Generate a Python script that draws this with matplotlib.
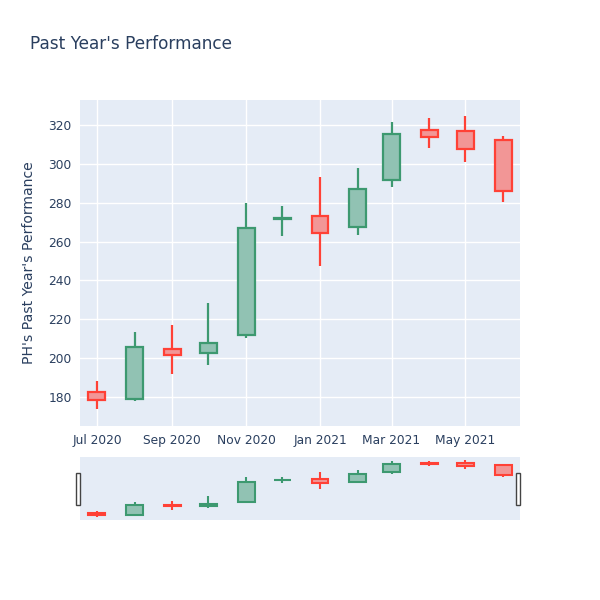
import matplotlib
matplotlib.use("Agg")
import matplotlib.pyplot as plt
import matplotlib.dates as mdates
import numpy as np
import pandas as pd
from matplotlib.patches import Rectangle

# monthly candles, values
dates = ["2020-07-01", "2020-08-01", "2020-09-01", "2020-10-01", "2020-11-01", "2020-12-01",
         "2021-01-01", "2021-02-01", "2021-03-01", "2021-04-01", "2021-05-01", "2021-06-01"]
opens = [182.7, 179.0, 204.9, 202.8, 211.9, 271.6, 273.3, 267.3, 291.7, 317.6, 316.9, 312.3]
highs = [188.4, 213.3, 217.0, 228.2, 280.0, 278.3, 293.4, 297.7, 321.4, 323.4, 324.6, 314.3]
lows = [173.7, 178.1, 191.8, 196.5, 210.5, 262.7, 247.4, 263.4, 287.9, 308.3, 301.0, 280.5]
closes = [178.5, 205.6, 201.5, 207.9, 267.0, 272.4, 264.2, 286.9, 315.4, 313.7, 307.8, 286.2]

title = "Past Year's Performance"
ylabel = "PH's Past Year's Performance"

inc_line, inc_fill = "#3D9970", "#91C2B3"
dec_line, dec_fill = "#FF4136", "#F29696"
bg = "#E5ECF6"
txt = "#2a3f5f"

x = mdates.date2num(pd.to_datetime(dates))
xmin = mdates.date2num(pd.Timestamp("2020-06-17"))
xmax = mdates.date2num(pd.Timestamp("2021-06-15"))
ymin, ymax = 165.1, 332.9
bw = 14  # days

fig = plt.figure(figsize=(6, 6), dpi=100)
ax = fig.add_axes([80/600, 1-426/600, 440/600, 326/600])
sl = fig.add_axes([80/600, 1-520/600, 440/600, 63/600])


def candles(a, lw):
    for xi, o, h, l, c in zip(x, opens, highs, lows, closes):
        if c >= o:
            lc, fc = inc_line, inc_fill
        else:
            lc, fc = dec_line, dec_fill
        a.vlines(xi, l, h, color=lc, lw=lw, zorder=3)
        lo, hi = min(o, c), max(o, c)
        a.add_patch(Rectangle((xi - bw/2, lo), bw, hi - lo, facecolor=fc,
                              edgecolor=lc, lw=lw, zorder=4))


candles(ax, 1.6)
candles(sl, 1.5)

for a in (ax, sl):
    a.set_facecolor(bg)
    a.set_xlim(xmin, xmax)
    a.set_ylim(ymin, ymax)
    for s in a.spines.values():
        s.set_visible(False)

ax.xaxis.set_major_locator(mdates.MonthLocator(bymonth=[1, 3, 5, 7, 9, 11]))
ax.xaxis.set_major_formatter(mdates.DateFormatter("%b %Y"))
ax.set_yticks(np.arange(180, 321, 20))
ax.grid(True, color="white", lw=1)
ax.set_axisbelow(True)
ax.tick_params(length=0, labelsize=8.8, labelcolor=txt, pad=6)
ax.set_ylabel(ylabel, fontsize=10.1, color=txt, labelpad=9)

sl.set_xticks([])
sl.set_yticks([])

# range slider handles
for hx in (78/600, 518/600):
    fig.patches.append(Rectangle((hx - 2/600, 1-505/600), 4/600, 32/600,
                                 transform=fig.transFigure, facecolor="white",
                                 edgecolor="#444444", lw=1, zorder=5))

fig.text(30/600, 1-44/600, title, fontsize=12.2, color=txt, va="center", ha="left")

fig.savefig("out.png", dpi=100)
